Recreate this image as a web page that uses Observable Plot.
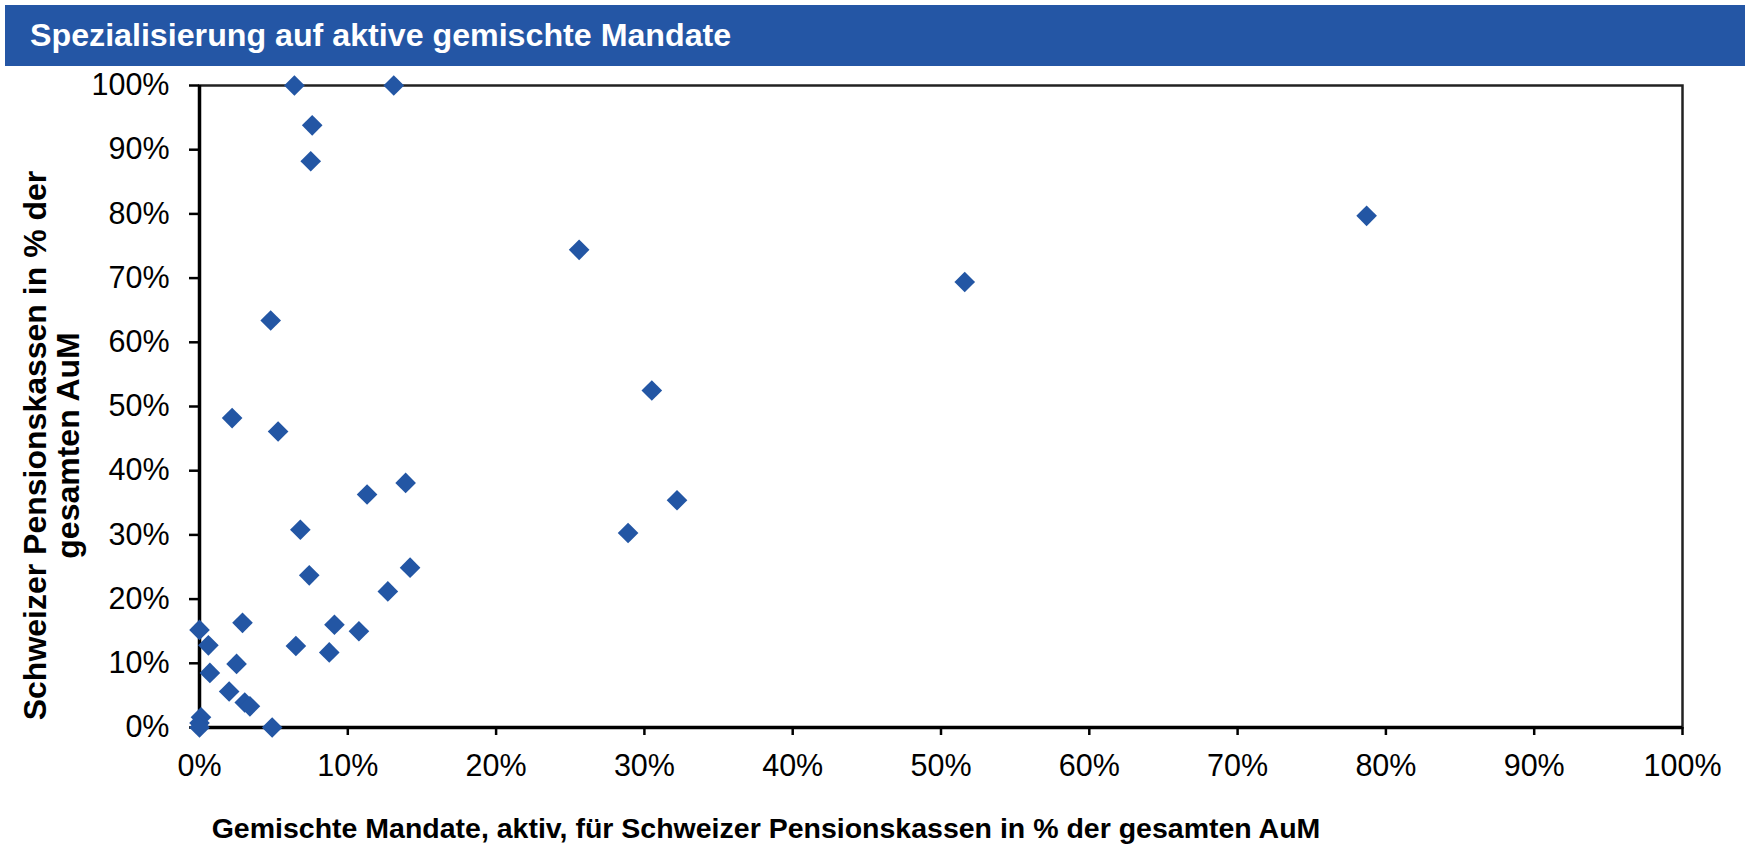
<!DOCTYPE html>
<html>
<head>
<meta charset="utf-8">
<script src="https://cdn.jsdelivr.net/npm/d3@7"></script>
<script src="https://cdn.jsdelivr.net/npm/@observablehq/plot@0.6"></script>
<style>
  html, body { margin: 0; padding: 0; background: #ffffff; }
  body { width: 1745px; height: 845px; overflow: hidden; font-family: "Liberation Sans", Arial, sans-serif; }
  #title {
    margin: 5px 0 0 5px; height: 61px; line-height: 61px;
    background: #2456a5; color: #ffffff; font-weight: bold; font-size: 32.2px;
    padding-left: 25px; box-sizing: border-box; white-space: nowrap;
  }
  #chart svg { display: block; }
</style>
</head>
<body>
<div id="title"></div>
<div id="chart"></div>
<script>
const chartTitle = "Spezialisierung auf aktive gemischte Mandate";
const xTitle = "Gemischte Mandate, aktiv, für Schweizer Pensionskassen in % der gesamten AuM";
const yTitle = "Schweizer Pensionskassen in % der\ngesamten AuM";

// Gemischte Mandate, aktiv (% der gesamten AuM)
const xValues = [6.4, 13.1, 7.6, 7.5, 25.6, 51.6, 78.7, 4.8, 30.5, 2.2, 5.3, 13.9, 11.3, 32.2, 6.8, 28.9, 14.2, 7.4, 12.7, 0.0, 2.9, 9.1, 10.75, 0.6, 6.5, 8.75, 2.5, 0.7, 2.0, 3.05, 3.4, 4.9, 0.1, 0.0, 0.0];
// Schweizer Pensionskassen (% der gesamten AuM)
const yValues = [100, 100, 93.8, 88.2, 74.4, 69.4, 79.7, 63.4, 52.5, 48.2, 46.1, 38.1, 36.3, 35.4, 30.8, 30.3, 24.9, 23.7, 21.2, 15.2, 16.3, 16.0, 15.0, 12.8, 12.7, 11.7, 9.9, 8.5, 5.6, 3.9, 3.3, 0.0, 1.6, 0.7, 0.0];

const xTicks = [0, 10, 20, 30, 40, 50, 60, 70, 80, 90, 100];
const yTicks = [0, 10, 20, 30, 40, 50, 60, 70, 80, 90, 100];

const points = xValues.map((x, i) => ({x, y: yValues[i]}));
const pct = d => d + "%";

document.getElementById("title").textContent = chartTitle;

const chart = Plot.plot({
  width: 1745,
  height: 779,
  marginTop: 19,
  marginLeft: 199,
  marginRight: 63,
  marginBottom: 118,
  style: {fontFamily: "'Liberation Sans', Arial, sans-serif", fontSize: "30px", color: "#000", background: "#fff", overflow: "visible"},
  x: {domain: [0, 100]},
  y: {domain: [0, 100]},
  marks: [
    Plot.frame({stroke: "#222", strokeWidth: 2.5}),
    Plot.axisX({ticks: xTicks, tickFormat: pct, tickSize: 8, tickPadding: 19, strokeWidth: 2.5, fontSize: 30.5, label: null}),
    Plot.axisY({ticks: yTicks, tickFormat: pct, tickSize: 10, tickPadding: 20, strokeWidth: 2.5, fontSize: 30.5, label: null}),
    Plot.ruleX([0], {stroke: "#000", strokeWidth: 3.5}),
    Plot.ruleY([0], {stroke: "#000", strokeWidth: 3.5}),
    Plot.dot(points, {x: "x", y: "y", symbol: "diamond2", r: 9.3, fill: "#2356a4", stroke: "none"}),
    Plot.text([xTitle], {frameAnchor: "bottom", dx: -175, dy: 101, textAnchor: "middle", lineAnchor: "middle", fontWeight: "bold", fontSize: 28.5, fill: "#000"}),
    Plot.text([yTitle], {frameAnchor: "left", rotate: -90, dx: -148, dy: 39, textAnchor: "middle", lineAnchor: "middle", lineHeight: 1.03, fontWeight: "bold", fontSize: 32, fill: "#000"})
  ]
});
document.getElementById("chart").appendChild(chart);
</script>
</body>
</html>
